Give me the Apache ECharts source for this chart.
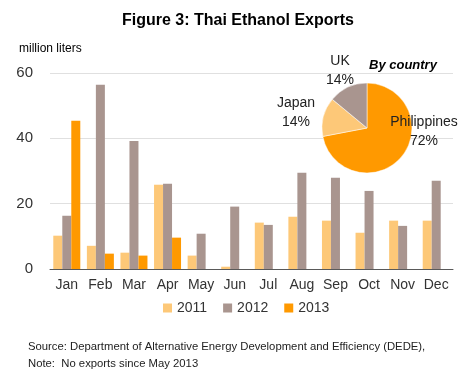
<!DOCTYPE html>
<html>
<head>
<meta charset="utf-8">
<script src="https://cdn.jsdelivr.net/npm/echarts@6/dist/echarts.min.js"></script>
<style>
  html, body { margin: 0; padding: 0; background: #fff; }
  #chart { width: 476px; height: 376px; }
</style>
</head>
<body>
<div id="chart"></div>
<script>
// monthly exports, million liters
var months = ['Jan', 'Feb', 'Mar', 'Apr', 'May', 'Jun', 'Jul', 'Aug', 'Sep', 'Oct', 'Nov', 'Dec'];
var exports2011 = [10.2, 7.1, 5.0, 25.8, 4.1, 0.7, 14.2, 16.0, 14.8, 11.1, 14.8, 14.8];
var exports2012 = [16.3, 56.4, 39.2, 26.1, 10.8, 19.1, 13.5, 29.5, 27.9, 23.9, 13.2, 27.0];
var exports2013 = [45.4, 4.7, 4.1, 9.6, null, null, null, null, null, null, null, null];
var yTicks = [0, 20, 40, 60];

// share by country
var countries = ['Philippines', 'Japan', 'UK'];
var shares = [72, 14, 14];

var colors = ['#FDC878', '#A9958F', '#FF9900'];
var font = 'Liberation Sans';

var myChart = echarts.init(document.getElementById('chart'));

var option = {
    animation: false,
    textStyle: { fontFamily: font },
    title: [
        {
            text: 'Figure 3: Thai Ethanol Exports',
            left: 'center', top: 8,
            textStyle: { fontSize: 16, fontWeight: 'bold', color: '#000', fontFamily: font }
        },
        {
            text: 'million liters',
            left: 14, top: 38,
            textStyle: { fontSize: 12, fontWeight: 'normal', color: '#000', fontFamily: font }
        },
        {
            text: 'By country',
            left: 364, top: 54,
            textStyle: { fontSize: 13, fontWeight: 'bold', fontStyle: 'italic', color: '#000', fontFamily: font }
        }
    ],
    legend: {
        bottom: 56,
        left: 158,
        data: ['2011', '2012', '2013'],
        itemWidth: 9, itemHeight: 9, itemGap: 16,
        icon: 'rect',
        textStyle: { fontSize: 14, color: '#333', fontFamily: font }
    },
    grid: { left: 50, right: 23, top: 73, bottom: 107 },
    xAxis: {
        type: 'category',
        data: months,
        axisTick: { show: false },
        axisLine: { lineStyle: { color: '#595959', width: 1 } },
        axisLabel: { fontSize: 14, color: '#333', margin: 9, interval: 0 }
    },
    yAxis: {
        type: 'value',
        min: yTicks[0], max: yTicks[yTicks.length - 1], interval: 20,
        axisLabel: { fontSize: 15, color: '#333', margin: 17 },
        splitLine: { lineStyle: { color: '#E0E0E0' } },
        axisLine: { show: false },
        axisTick: { show: false }
    },
    series: [
        { name: '2011', type: 'bar', data: exports2011, barWidth: 9, barGap: '0%', itemStyle: { color: colors[0] } },
        { name: '2012', type: 'bar', data: exports2012, barWidth: 9, barGap: '0%', itemStyle: { color: colors[1] } },
        { name: '2013', type: 'bar', data: exports2013, barWidth: 9, barGap: '0%', itemStyle: { color: colors[2] } },
        {
            name: 'By country',
            type: 'pie',
            center: [367, 128],
            radius: 45,
            startAngle: 90,
            clockwise: true,
            data: countries.map(function (c, i) {
                return { name: c, value: shares[i], itemStyle: { color: [colors[2], colors[0], colors[1]][i] } };
            }),
            itemStyle: { borderColor: '#fff', borderWidth: 0.5 },
            label: {
                show: true,
                formatter: '{b}\n{d}%',
                fontSize: 14,
                lineHeight: 19,
                color: '#222',
                align: 'center',
                overflow: 'none'
            },
            labelLine: { show: false },
            labelLayout: function (p) {
                var pos = [[424, 132], [296, 113], [340, 71]][p.dataIndex];
                return { x: pos[0], y: pos[1], align: 'center', verticalAlign: 'middle' };
            }
        }
    ]
};

myChart.setOption(option);

// notes under the chart
myChart.setOption({
    graphic: [
        {
            type: 'text', left: 28, top: 338,
            style: {
                text: 'Source: Department of Alternative Energy Development and Efficiency (DEDE),\nNote:  No exports since May 2013',
                font: '11.3px ' + font, fill: '#222', lineHeight: 17
            }
        }
    ]
});
</script>
</body>
</html>
